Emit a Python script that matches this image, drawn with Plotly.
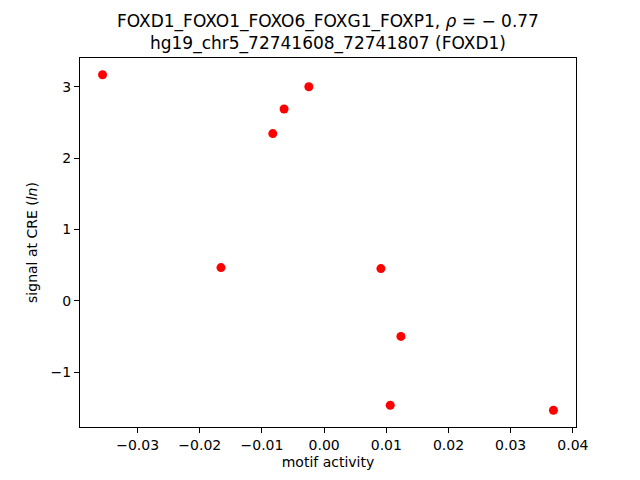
import plotly.graph_objects as go

motif_activity = [-0.03564, -0.01659, -0.00826, -0.00644, -0.00246, 0.00913, 0.01235, 0.01063, 0.03688]
signal_at_cre = [3.168, 0.464, 2.343, 2.688, 3.0, 0.450, -0.501, -1.466, -1.536]

title_line1 = "FOXD1_FOXO1_FOXO6_FOXG1_FOXP1, <i>ρ</i> = − 0.77"
title_line2 = "hg19_chr5_72741608_72741807 (FOXD1)"

def padded(vals, frac=0.05):
    lo, hi = min(vals), max(vals)
    r = hi - lo
    return [lo - frac * r, hi + frac * r]

font = "DejaVu Sans, Liberation Sans, sans-serif"

# the page body adds an 8px offset; size the figure so the plot lands where the reference has it
W, H = 632, 472
ML, MR, MT, MB = 72, 64, 50, 53
PH = H - MT - MB

def paper_y(px_from_top):
    return 1 + (MT - px_from_top) / PH

fig = go.Figure()
fig.add_trace(go.Scatter(
    x=motif_activity, y=signal_at_cre, mode="markers",
    marker=dict(color="red", size=9, line=dict(width=0)),
    showlegend=False,
))

axis_common = dict(
    showgrid=False, zeroline=False, showline=True, linecolor="black", linewidth=1,
    mirror=True, ticks="outside", ticklen=5, tickwidth=1, tickcolor="black",
    tickfont=dict(family=font, size=14, color="black"),
)

fig.add_annotation(
    text=title_line1 + "<br>" + title_line2,
    xref="paper", yref="paper", x=0.5, y=paper_y(24.3),
    xanchor="center", yanchor="middle", showarrow=False, align="center",
    font=dict(family=font, size=17, color="black"),
)

fig.update_layout(
    width=W, height=H,
    margin=dict(l=ML, r=MR, t=MT, b=MB),
    paper_bgcolor="white", plot_bgcolor="white",
    font=dict(family=font, color="black"),
    xaxis=dict(
        **axis_common, range=padded(motif_activity), dtick=0.01, tickformat=".2f",
        title=dict(text="motif activity", font=dict(family=font, size=14), standoff=5),
    ),
    yaxis=dict(
        **axis_common, range=padded(signal_at_cre), dtick=1, tickformat="d",
        title=dict(text="signal at CRE (<i>ln</i>)", font=dict(family=font, size=14), standoff=9),
    ),
)

fig.write_html("out.html")
